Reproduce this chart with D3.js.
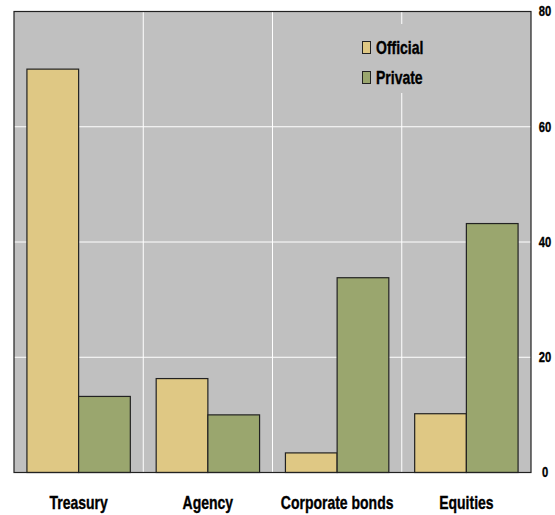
<!DOCTYPE html>
<html>
<head>
<meta charset="utf-8">
<script src="https://cdn.jsdelivr.net/npm/d3@7"></script>
<style>
  body { margin: 0; background: #fff; }
  svg text { font-family: "Liberation Sans", Arial, sans-serif; font-weight: bold; fill: #000; stroke: #000; stroke-width: 0.35px; }
</style>
</head>
<body>
<svg id="chart" width="555" height="515"></svg>
<script>
const categories = ["Treasury", "Agency", "Corporate bonds", "Equities"];
const seriesNames = ["Official", "Private"];
const official = [70, 16.3, 3.4, 10.2];
const privateVals = [13.2, 10, 33.8, 43.2];
const yTicks = [0, 20, 40, 60, 80];

const colors = { Official: "#dfc884", Private: "#9aa66e" };
const narrow = 0.8; // squeeze text to look like a narrow face

const svg = d3.select("#chart");
const plotLeft = 14, plotRight = 531, plotTop = 11.5, plotBottom = 472.5;

const x0 = d3.scaleBand().domain(categories).range([plotLeft, plotRight]).padding(0);
const x1 = d3.scaleBand().domain(seriesNames)
  .range([x0.bandwidth() * 0.1, x0.bandwidth() * 0.9]).padding(0);
const y = d3.scaleLinear().domain([0, 80]).range([plotBottom, plotTop]);

// plot background
svg.append("rect")
  .attr("x", plotLeft).attr("y", plotTop)
  .attr("width", plotRight - plotLeft).attr("height", plotBottom - plotTop)
  .attr("fill", "#c0c0c0");

// horizontal gridlines
svg.append("g").selectAll("line")
  .data(yTicks.filter(d => d > 0 && d < 80))
  .join("line")
  .attr("x1", plotLeft).attr("x2", plotRight)
  .attr("y1", d => y(d)).attr("y2", d => y(d))
  .attr("stroke", "#fff").attr("stroke-width", 1);

// vertical gridlines between categories
svg.append("g").selectAll("line")
  .data(categories.slice(1))
  .join("line")
  .attr("x1", d => x0(d)).attr("x2", d => x0(d))
  .attr("y1", plotTop).attr("y2", plotBottom)
  .attr("stroke", "#fff").attr("stroke-width", 1);

// bars
const rows = categories.map((c, i) => ({ cat: c, Official: official[i], Private: privateVals[i] }));
svg.append("g").selectAll("g")
  .data(rows)
  .join("g")
  .attr("transform", d => `translate(${x0(d.cat)},0)`)
  .selectAll("rect")
  .data(d => seriesNames.map(s => ({ key: s, value: d[s] })))
  .join("rect")
  .attr("x", d => x1(d.key))
  .attr("y", d => y(d.value))
  .attr("width", x1.bandwidth())
  .attr("height", d => y(0) - y(d.value))
  .attr("fill", d => colors[d.key])
  .attr("stroke", "#222")
  .attr("stroke-width", 1.2);

// legend, with its own background hiding the gridline
const legend = svg.append("g").attr("transform", "translate(358,24)");
legend.append("rect")
  .attr("x", 0).attr("y", 0).attr("width", 80).attr("height", 69)
  .attr("fill", "#c0c0c0");
seriesNames.forEach((s, i) => {
  const g = legend.append("g").attr("transform", `translate(0,${17 + i * 30})`);
  g.append("rect")
    .attr("x", 4.5).attr("y", 0.5).attr("width", 8).attr("height", 12)
    .attr("fill", colors[s]).attr("stroke", "#222").attr("stroke-width", 1);
  g.append("text")
    .attr("transform", `translate(18,12.5) scale(${narrow},1)`)
    .attr("font-size", "17.5px")
    .text(s);
});

// frame
svg.append("rect")
  .attr("x", plotLeft).attr("y", plotTop)
  .attr("width", plotRight - plotLeft).attr("height", plotBottom - plotTop)
  .attr("fill", "none").attr("stroke", "#222").attr("stroke-width", 1.2);

// right axis labels
svg.append("g").selectAll("text")
  .data(yTicks)
  .join("text")
  .attr("transform", d => `translate(545,${y(d)}) scale(${narrow},1)`)
  .attr("dy", "0.35em")
  .attr("text-anchor", "middle")
  .attr("font-size", "14px")
  .text(d => d);

// category labels
svg.append("g").selectAll("text")
  .data(categories)
  .join("text")
  .attr("transform", d => `translate(${x0(d) + x0.bandwidth() / 2},509) scale(${narrow},1)`)
  .attr("text-anchor", "middle")
  .attr("font-size", "17.5px")
  .text(d => d);
</script>
</body>
</html>
